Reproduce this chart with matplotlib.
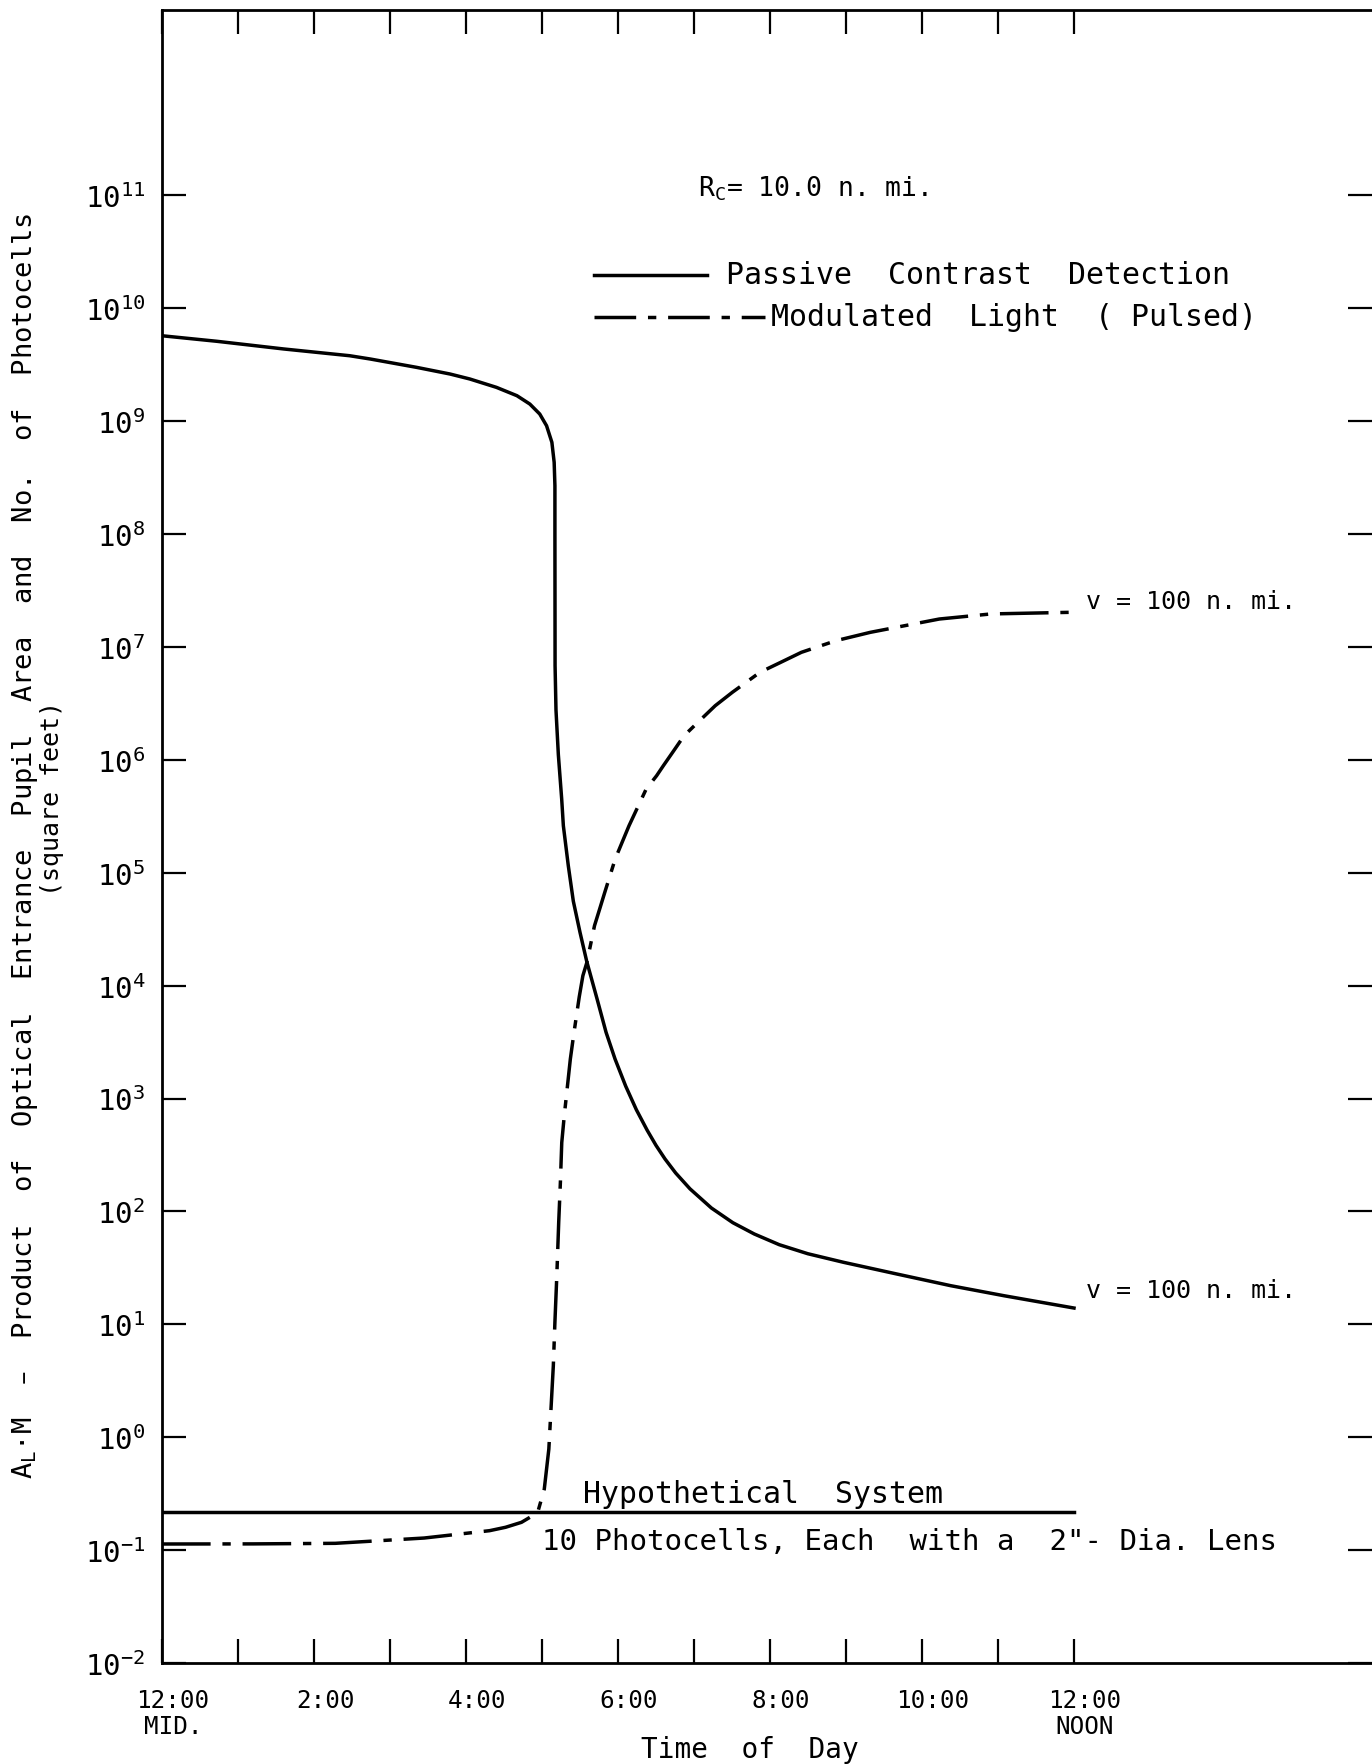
"""A_L*M vs time of day: passive contrast detection vs modulated light (pulsed)."""

import matplotlib

matplotlib.use("Agg")
import matplotlib.pyplot as plt
import matplotlib.transforms as mtransforms
import numpy as np
from matplotlib.lines import Line2D
from matplotlib.ticker import FixedLocator, NullLocator

# ── Data (hours after midnight, log10 of A_L*M) ───────────────────────────────
passive_hours = [0.0, 0.72, 1.6, 2.47, 2.74, 3.35, 3.79, 4.05, 4.40, 4.67,
                 4.84, 4.97, 5.06, 5.13, 5.16, 5.17, 5.17, 5.172, 5.184, 5.215,
                 5.259, 5.281, 5.346, 5.412, 5.50, 5.588, 5.725, 5.843, 5.961,
                 6.101, 6.242, 6.383, 6.50, 6.618, 6.759, 6.947, 7.229, 7.511,
                 7.793, 8.122, 8.498, 8.968, 9.672, 10.378, 11.08, 12.0]
passive_log = [9.756, 9.707, 9.639, 9.579, 9.550, 9.476, 9.417, 9.373, 9.299,
               9.225, 9.151, 9.063, 8.959, 8.812, 8.635, 8.428, 8.0, 6.834,
               6.441, 6.046, 5.653, 5.416, 5.062, 4.748, 4.472, 4.216, 3.881,
               3.586, 3.35, 3.11, 2.90, 2.72, 2.585, 2.465, 2.34, 2.20, 2.03,
               1.90, 1.80, 1.705, 1.625, 1.549, 1.445, 1.342, 1.253, 1.144]

modulated_hours = [0.0, 1.2, 2.28, 3.45, 4.31, 4.52, 4.73, 4.84, 4.95, 5.03,
                   5.09, 5.149, 5.17, 5.195, 5.22, 5.242, 5.26, 5.293, 5.33,
                   5.373, 5.42, 5.49, 5.538, 5.591, 5.691, 5.759, 5.826, 5.963,
                   6.054, 6.145, 6.258, 6.371, 6.508, 6.597, 6.734, 6.87, 7.051,
                   7.279, 7.505, 7.868, 8.14, 8.413, 8.867, 9.32, 9.774, 10.228,
                   10.908, 12.0]
modulated_log = [-0.946, -0.945, -0.940, -0.893, -0.828, -0.798, -0.754, -0.71,
                 -0.65, -0.46, -0.105, 0.633, 1.02, 1.431, 1.906, 2.258, 2.61,
                 2.848, 3.08, 3.35, 3.58, 3.90, 4.088, 4.206, 4.531, 4.679,
                 4.826, 5.121, 5.269, 5.416, 5.579, 5.741, 5.859, 5.948, 6.081,
                 6.214, 6.332, 6.479, 6.598, 6.775, 6.863, 6.952, 7.055, 7.129,
                 7.188, 7.247, 7.292, 7.307]

hypothetical_hours = [0.0, 12.0]
hypothetical_value = [0.218, 0.218]

major_hours = [0, 2, 4, 6, 8, 10, 12]
major_labels = ["12:00\nMID.", "2:00", "4:00", "6:00", "8:00", "10:00", "12:00\nNOON"]
minor_hours = [1, 3, 5, 7, 9, 11]
decades = np.arange(-2, 12)

# ── Figure ───────────────────────────────────────────────────────────────────
W, H, DPI = 1372, 1765, 100
plt.rcParams["font.family"] = ["DejaVu Sans Mono", "DejaVu Sans"]
fig = plt.figure(figsize=(W / DPI, H / DPI), dpi=DPI)

x0, x1 = 162, 1372
y_top, y_bot = 10.7, 1664
ax = fig.add_axes([x0 / W, 1 - y_bot / H, (x1 - x0) / W, (y_bot - y_top) / H])

px_per_hour = 76.0
px_per_decade = 112.9
ax.set_xlim(0, (x1 - x0) / px_per_hour)
ax.set_yscale("log")
ax.set_ylim(1e-2, 10 ** (-2 + (y_bot - y_top) / px_per_decade))

lw = 2.5
ax.plot(passive_hours, 10.0 ** np.array(passive_log), color="black", lw=lw,
        solid_joinstyle="round")
dash = (0, (14, 3.4, 2.4, 3.4))
ax.plot(modulated_hours, 10.0 ** np.array(modulated_log), color="black", lw=lw,
        ls=dash, dash_capstyle="butt", dash_joinstyle="round")
ax.plot(hypothetical_hours, hypothetical_value, color="black", lw=lw)

# ── Axes styling ─────────────────────────────────────────────────────────────
for side in ("left", "top", "bottom"):
    ax.spines[side].set_linewidth(2.0)
ax.spines["right"].set_visible(False)

ax.xaxis.set_major_locator(FixedLocator(major_hours))
ax.xaxis.set_minor_locator(FixedLocator(minor_hours))
ax.set_xticklabels(major_labels, fontsize=17.5, linespacing=1.1)
ax.yaxis.set_major_locator(FixedLocator(10.0 ** decades))
ax.yaxis.set_minor_locator(NullLocator())

ax.tick_params(axis="both", which="both", direction="in", length=17, width=1.6,
               top=True, right=True, labelright=False, labeltop=False)
ax.tick_params(axis="x", pad=18)
ax.tick_params(axis="y", pad=12, labelsize=21)

# hand-lettered hour labels sit a little right of their ticks
shift = mtransforms.ScaledTranslation(11 / DPI, 0, fig.dpi_scale_trans)
for lab in ax.get_xticklabels():
    lab.set_transform(lab.get_transform() + shift)

# ── Labels and annotations ───────────────────────────────────────────────────
fig.text(750 / W, 1 - 1758 / H, "Time  of  Day", fontsize=20, ha="center",
         va="baseline")
fig.text(25 / W, 1 - 846 / H,
         "A$_\\mathregular{L}$·M  –  Product  of  Optical  Entrance  Pupil  Area  "
         "and  No.  of  Photocells",
         rotation=90, fontsize=19.5, ha="center", va="center")
fig.text(52 / W, 1 - 799 / H, "(square feet)", rotation=90, fontsize=18,
         ha="center", va="center")

fig.text(698 / W, 1 - 189 / H, "R$_\\mathregular{C}$= 10.0 n. mi.", fontsize=19,
         ha="left", va="center")

# legend
fig.add_artist(Line2D([594 / W, 707 / W], [1 - 276 / H] * 2, color="black", lw=lw))
fig.add_artist(Line2D([594 / W, 765 / W], [1 - 318 / H] * 2, color="black", lw=lw,
                      ls=(0, (12, 3.4, 2.4, 3.4)), dash_capstyle="butt"))
fig.text(726 / W, 1 - 276 / H, "Passive  Contrast  Detection", fontsize=21.5,
         ha="left", va="center")
fig.text(771 / W, 1 - 318 / H, "Modulated  Light  ( Pulsed)", fontsize=21.5,
         ha="left", va="center")

fig.text(1086 / W, 1 - 602 / H, "v = 100 n. mi.", fontsize=18, ha="left",
         va="center")
fig.text(1086 / W, 1 - 1291 / H, "v = 100 n. mi.", fontsize=18, ha="left",
         va="center")
fig.text(583 / W, 1 - 1495 / H, "Hypothetical  System", fontsize=21.5, ha="left",
         va="center")
fig.text(542 / W, 1 - 1542 / H, "10 Photocells, Each  with a  2\"- Dia. Lens",
         fontsize=21, ha="left", va="center")

fig.savefig("out.png", dpi=DPI)
